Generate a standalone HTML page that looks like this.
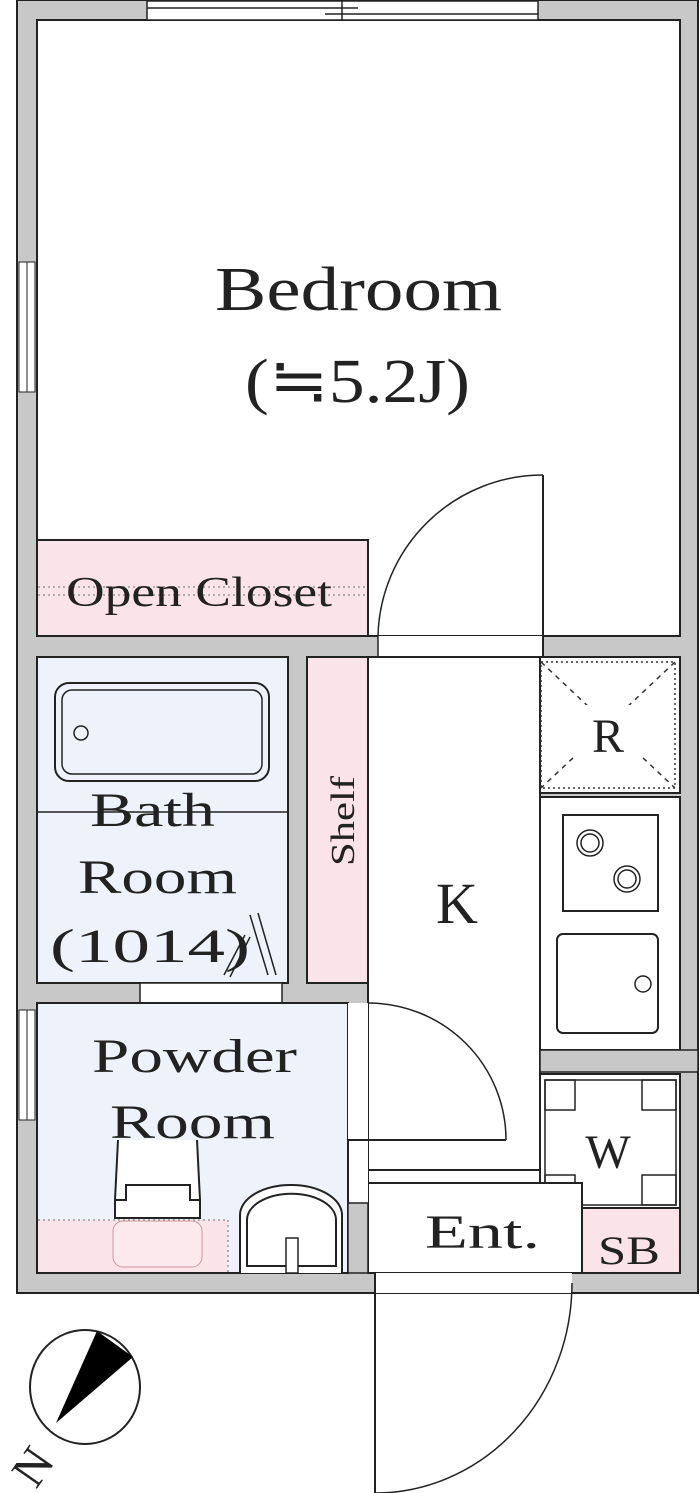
<!DOCTYPE html>
<html><head><meta charset="utf-8"><style>
html,body{margin:0;padding:0;background:#fff}
svg{display:block}
text{font-family:"Liberation Serif",serif;fill:#222}
</style></head><body>
<svg width="700" height="1493" viewBox="0 0 700 1493" xmlns="http://www.w3.org/2000/svg">
<rect x="17" y="0" width="681" height="1293" fill="#c8c8c8" stroke="#222" stroke-width="2"/>
<rect x="37" y="20" width="643" height="616" fill="#fff" stroke="#222" stroke-width="2"/>
<rect x="147" y="1" width="391" height="19" fill="#fff" stroke="#222" stroke-width="1.5"/>
<line x1="147" y1="8" x2="358" y2="8" stroke="#222" stroke-width="1.5"/>
<line x1="325" y1="14" x2="538" y2="14" stroke="#222" stroke-width="1.5"/>
<line x1="342" y1="1" x2="342" y2="20" stroke="#222" stroke-width="1.5"/>
<rect x="19" y="262" width="16" height="130" fill="#fff" stroke="#222" stroke-width="1"/>
<line x1="27" y1="262" x2="27" y2="392" stroke="#222" stroke-width="1"/>
<rect x="19" y="1010" width="16" height="110" fill="#fff" stroke="#222" stroke-width="1"/>
<line x1="27" y1="1010" x2="27" y2="1120" stroke="#222" stroke-width="1"/>
<rect x="37" y="540" width="331" height="96" fill="#fbe3ea" stroke="#222" stroke-width="2"/>
<line x1="38" y1="587" x2="367" y2="587" stroke="#999" stroke-width="1.5" stroke-dasharray="2,3"/>
<line x1="38" y1="595" x2="367" y2="595" stroke="#999" stroke-width="1.5" stroke-dasharray="2,3"/>
<rect x="378" y="636" width="165" height="21" fill="#fff"/>
<line x1="378" y1="636" x2="378" y2="657" stroke="#222" stroke-width="1.5"/>
<line x1="543" y1="475" x2="543" y2="657" stroke="#222" stroke-width="2"/>
<path d="M378 636 A165 165 0 0 1 543 475" fill="none" stroke="#222" stroke-width="1.5"/>
<line x1="543" y1="636" x2="680" y2="636" stroke="#222" stroke-width="2"/>
<rect x="37" y="657" width="251" height="326" fill="#eef3fb" stroke="#222" stroke-width="2"/>
<rect x="55" y="683" width="214" height="98" rx="14" fill="none" stroke="#222" stroke-width="2"/>
<rect x="62" y="690" width="200" height="84" rx="10" fill="none" stroke="#222" stroke-width="1.5"/>
<circle cx="81" cy="733" r="7" fill="none" stroke="#222" stroke-width="1.5"/>
<line x1="37" y1="812" x2="288" y2="812" stroke="#222" stroke-width="1.5"/>
<line x1="250" y1="915" x2="268" y2="975" stroke="#222" stroke-width="1.5"/>
<line x1="258" y1="913" x2="276" y2="975" stroke="#222" stroke-width="1.5"/>
<line x1="245" y1="935" x2="224" y2="975" stroke="#222" stroke-width="1.5"/>
<line x1="250" y1="937" x2="230" y2="977" stroke="#222" stroke-width="1.5"/>
<rect x="307" y="657" width="61" height="326" fill="#fbe3ea" stroke="#222" stroke-width="2"/>
<rect x="368" y="657" width="172" height="616" fill="#fff" stroke="#222" stroke-width="2"/>
<rect x="540" y="657" width="140" height="136" fill="#fff" stroke="#222" stroke-width="2"/>
<rect x="541" y="662" width="134" height="126" fill="none" stroke="#333" stroke-width="1.5" stroke-dasharray="2,3"/>
<line x1="541" y1="662" x2="675" y2="788" stroke="#333" stroke-width="1.5" stroke-dasharray="5,5"/>
<line x1="675" y1="662" x2="541" y2="788" stroke="#333" stroke-width="1.5" stroke-dasharray="5,5"/>
<rect x="575" y="705" width="68" height="50" fill="#fff"/>
<rect x="540" y="797" width="140" height="253" fill="#fff" stroke="#222" stroke-width="2"/>
<rect x="563" y="815" width="95" height="96" fill="#fff" stroke="#222" stroke-width="2"/>
<circle cx="590" cy="843" r="13" fill="none" stroke="#222" stroke-width="1.5"/>
<circle cx="590" cy="843" r="9" fill="none" stroke="#222" stroke-width="1.5"/>
<circle cx="627" cy="879" r="13" fill="none" stroke="#222" stroke-width="1.5"/>
<circle cx="627" cy="879" r="9" fill="none" stroke="#222" stroke-width="1.5"/>
<rect x="557" y="934" width="101" height="99" rx="6" fill="#fff" stroke="#222" stroke-width="2"/>
<circle cx="643" cy="984" r="8" fill="none" stroke="#222" stroke-width="1.5"/>
<rect x="540" y="1050" width="158" height="22" fill="#c8c8c8" stroke="#222" stroke-width="1.5"/>
<rect x="540" y="1074" width="140" height="134" fill="#fff" stroke="#222" stroke-width="2"/>
<rect x="545" y="1080" width="131" height="125" fill="none" stroke="#222" stroke-width="1.5"/>
<rect x="545" y="1080" width="30" height="30" fill="none" stroke="#222" stroke-width="1.5"/>
<rect x="642" y="1080" width="34" height="30" fill="none" stroke="#222" stroke-width="1.5"/>
<rect x="545" y="1175" width="30" height="30" fill="none" stroke="#222" stroke-width="1.5"/>
<rect x="642" y="1175" width="34" height="30" fill="none" stroke="#222" stroke-width="1.5"/>
<rect x="582" y="1208" width="98" height="65" fill="#fbe3ea" stroke="#222" stroke-width="2"/>
<rect x="368" y="1183" width="214" height="90" fill="#fff" stroke="#222" stroke-width="2"/>
<line x1="368" y1="1170" x2="540" y2="1170" stroke="#222" stroke-width="2"/>
<rect x="140" y="983" width="142" height="20" fill="#fff" stroke="#222" stroke-width="1.5"/>
<rect x="37" y="1003" width="311" height="270" fill="#eef3fb" stroke="#222" stroke-width="2"/>
<rect x="38" y="1220" width="190" height="52" fill="#fbe3ea"/>
<line x1="38" y1="1220" x2="228" y2="1220" stroke="#999" stroke-width="1.5" stroke-dasharray="2,3"/>
<line x1="228" y1="1220" x2="228" y2="1272" stroke="#999" stroke-width="1.5" stroke-dasharray="2,3"/>
<path d="M118 1140 L115 1200 L115 1218 L200 1218 L200 1200 L197 1140" fill="#fff" stroke="#222" stroke-width="2"/>
<path d="M115 1200 L126 1200 L126 1185 L190 1185 L190 1200 L200 1200" fill="none" stroke="#222" stroke-width="2"/>
<rect x="113" y="1221" width="89" height="46" rx="10" fill="#fbe9ee" stroke="#c99" stroke-width="1"/>
<path d="M240 1273 L240 1215 A51 30 0 0 1 342 1215 L342 1273" fill="#fff" stroke="#222" stroke-width="2"/>
<path d="M247 1266 L247 1220 A44 26 0 0 1 336 1220 L336 1266 Z" fill="none" stroke="#222" stroke-width="2"/>
<rect x="286" y="1238" width="12" height="35" fill="#fff" stroke="#222" stroke-width="1.5"/>
<rect x="348" y="1003" width="20" height="200" fill="#fff"/>
<rect x="348" y="1203" width="20" height="70" fill="#c8c8c8" stroke="#222" stroke-width="1.5"/>
<line x1="348" y1="1140" x2="506" y2="1140" stroke="#222" stroke-width="2"/>
<line x1="348" y1="1140" x2="348" y2="1203" stroke="#222" stroke-width="2"/>
<path d="M368 1003 A138 137 0 0 1 506 1140" fill="none" stroke="#222" stroke-width="1.5"/>
<rect x="375" y="1273" width="197" height="20" fill="#fff"/>
<line x1="375" y1="1273" x2="375" y2="1493" stroke="#222" stroke-width="2"/>
<path d="M375 1493 A197 210 0 0 0 572 1283" fill="none" stroke="#222" stroke-width="1.5"/>
<line x1="17" y1="1293" x2="375" y2="1293" stroke="#222" stroke-width="2"/>
<line x1="572" y1="1293" x2="698" y2="1293" stroke="#222" stroke-width="2"/>
<ellipse cx="85" cy="1387" rx="55" ry="57" fill="#fff" stroke="#222" stroke-width="2"/>
<path d="M56 1423 L97 1331 L133 1357 Z" fill="#000"/>
<text x="0" y="0" font-size="48" transform="translate(36,1490) rotate(-55)">N</text>
<text x="215" y="310" font-size="62" textLength="287" lengthAdjust="spacingAndGlyphs">Bedroom</text>
<text x="245" y="402" font-size="62" textLength="225" lengthAdjust="spacingAndGlyphs">(≒5.2J)</text>
<text x="66" y="606" font-size="42" textLength="266" lengthAdjust="spacingAndGlyphs">Open Closet</text>
<text x="90" y="826" font-size="48" textLength="125" lengthAdjust="spacingAndGlyphs">Bath</text>
<text x="78" y="893" font-size="48" textLength="159" lengthAdjust="spacingAndGlyphs">Room</text>
<text x="50" y="962" font-size="48" textLength="200" lengthAdjust="spacingAndGlyphs">(1014)</text>
<text x="0" y="0" font-size="34" transform="translate(354,866) rotate(-90)" textLength="90" lengthAdjust="spacingAndGlyphs">Shelf</text>
<text x="457" y="923" font-size="58" text-anchor="middle">K</text>
<text x="608" y="752" font-size="48" text-anchor="middle">R</text>
<text x="608" y="1168" font-size="48" text-anchor="middle">W</text>
<text x="92" y="1072" font-size="48" textLength="205" lengthAdjust="spacingAndGlyphs">Powder</text>
<text x="110" y="1138" font-size="48" textLength="165" lengthAdjust="spacingAndGlyphs">Room</text>
<text x="425" y="1248" font-size="48" textLength="115" lengthAdjust="spacingAndGlyphs">Ent.</text>
<text x="598" y="1264" font-size="40" textLength="62" lengthAdjust="spacingAndGlyphs">SB</text>
</svg>
</body></html>
